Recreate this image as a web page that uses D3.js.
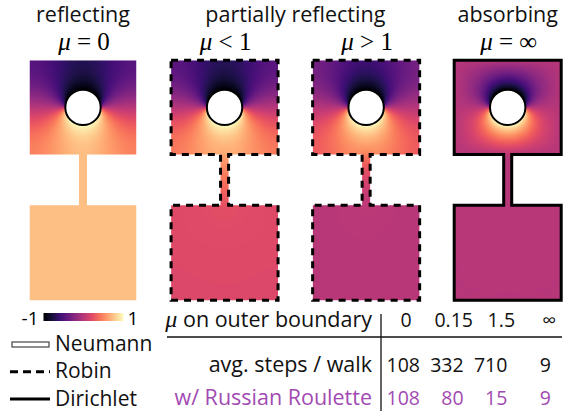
<!DOCTYPE html>
<html>
<head>
<meta charset="utf-8">
<script src="https://cdn.jsdelivr.net/npm/d3@7"></script>
<style>
  body { margin: 0; background: #fff; }
  svg { display: block; }
  .sans { font-family: "Open Sans", Lato, sans-serif; }
  .math { font-family: "Liberation Serif", "DejaVu Serif", serif; }
</style>
</head>
<body>
<svg id="chart" width="570" height="416"></svg>
<script>
// ---- data -------------------------------------------------------------
const panelKeys = ["reflecting", "robinLow", "robinHigh", "absorbing"];
const muValues = [0, 0.15, 1.5, Infinity];          // μ on the outer boundary
const muLabels = ["0", "0.15", "1.5", "∞"];
const panelSubtitles = [["μ", " = 0"], ["μ", " < 1"], ["μ", " > 1"], ["μ", " = ∞"]];
const boundaryKinds = ["neumann", "robin", "robin", "dirichlet"];
const groupTitles = ["reflecting", "partially reflecting", "absorbing"];
const groupPanels = [[0], [1, 2], [3]];
const avgSteps = [108, 332, 710, 9];
const avgStepsRR = [108, 80, 15, 9];
const legendLabels = ["Neumann", "Robin", "Dirichlet"];
const legendKinds = ["neumann", "robin", "dirichlet"];
const colorDomain = [-1, 1];

// ---- domain geometry (squares span [-0.5, 0.5], y pointing down) -----
const topSq = { x0: -0.5, x1: 0.5, y0: 0, y1: 0.88 };
const neck = { x0: -0.0375, x1: 0.0375, y0: 0.88, y1: 1.355 };
const botSq = { x0: -0.5, x1: 0.5, y0: 1.355, y1: 2.243 };
const hole = { cx: 0, cy: 0.44, r: 0.17 };
const domainWidth = topSq.x1 - topSq.x0;
// physical lengths: the whole domain is normalised to unit height
const physScale = 1 / (botSq.y1 - topSq.y0);

const color = d3.scaleSequential(d3.interpolateMagma).domain(colorDomain);

// boundary value on the inner circle: -1 on top, +1 at the bottom
function holeValue(x, y) {
  const dx = x - hole.cx, dy = y - hole.cy;
  const s = dy / Math.max(1e-9, Math.hypot(dx, dy));
  const k = 5;
  return Math.tanh(k * s) / Math.tanh(k);
}

function inRect(r, x, y) { return x >= r.x0 && x <= r.x1 && y >= r.y0 && y <= r.y1; }
function inDomain(x, y) { return inRect(topSq, x, y) || inRect(neck, x, y) || inRect(botSq, x, y); }
function inHole(x, y) { return Math.hypot(x - hole.cx, y - hole.cy) <= hole.r; }

// Laplace equation, Dirichlet on the circle, Robin (du/dn + μu = 0) outside.
// Finite volumes on a cell grid, solved with Jacobi-preconditioned CG.
function solve(mu, N) {
  const h = domainWidth / N;
  const hp = h * physScale;
  const nx = N, ny = Math.ceil(botSq.y1 / h);
  const state = new Int8Array(nx * ny);   // 0 outside, 1 unknown, 2 fixed
  const fixed = new Float64Array(nx * ny);
  for (let j = 0; j < ny; j++) for (let i = 0; i < nx; i++) {
    const x = topSq.x0 + (i + 0.5) * h, y = (j + 0.5) * h;
    const k = j * nx + i;
    if (!inDomain(x, y)) continue;
    if (inHole(x, y)) { state[k] = 2; fixed[k] = holeValue(x, y); }
    else state[k] = 1;
  }
  const c = mu === Infinity ? 2 : mu * hp / (1 + mu * hp / 2);
  const idx = new Int32Array(nx * ny).fill(-1);
  const cells = [];
  for (let k = 0; k < nx * ny; k++) if (state[k] === 1) { idx[k] = cells.length; cells.push(k); }
  const n = cells.length;
  const nb = new Int32Array(n * 4).fill(-1);
  const diag = new Float64Array(n), b = new Float64Array(n);
  const di = [1, -1, 0, 0], dj = [0, 0, 1, -1];
  cells.forEach((k, m) => {
    const i = k % nx, j = (k - i) / nx;
    for (let d = 0; d < 4; d++) {
      const ii = i + di[d], jj = j + dj[d];
      const kk = jj * nx + ii;
      const out = ii < 0 || ii >= nx || jj < 0 || jj >= ny || state[kk] === 0;
      if (out) { diag[m] += c; continue; }
      diag[m] += 1;
      if (state[kk] === 2) b[m] += fixed[kk];
      else nb[m * 4 + d] = idx[kk];
    }
  });
  const x = new Float64Array(n), r = Float64Array.from(b);
  const z = new Float64Array(n), p = new Float64Array(n), Ap = new Float64Array(n);
  for (let m = 0; m < n; m++) { z[m] = r[m] / diag[m]; p[m] = z[m]; }
  let rz = 0; for (let m = 0; m < n; m++) rz += r[m] * z[m];
  for (let it = 0; it < 4000; it++) {
    let pAp = 0;
    for (let m = 0; m < n; m++) {
      let v = diag[m] * p[m];
      for (let d = 0; d < 4; d++) { const q = nb[m * 4 + d]; if (q >= 0) v -= p[q]; }
      Ap[m] = v; pAp += p[m] * v;
    }
    const alpha = rz / pAp;
    let rr = 0;
    for (let m = 0; m < n; m++) { x[m] += alpha * p[m]; r[m] -= alpha * Ap[m]; rr += r[m] * r[m]; }
    if (rr < 1e-20) break;
    let rzNew = 0;
    for (let m = 0; m < n; m++) { z[m] = r[m] / diag[m]; rzNew += r[m] * z[m]; }
    const beta = rzNew / rz; rz = rzNew;
    for (let m = 0; m < n; m++) p[m] = z[m] + beta * p[m];
  }
  // full field, with values spread a few cells past the boundary for smooth edges
  const field = new Float64Array(nx * ny).fill(NaN);
  for (let k = 0; k < nx * ny; k++) {
    if (state[k] === 1) field[k] = x[idx[k]];
    else if (state[k] === 2) field[k] = fixed[k];
  }
  for (let pass = 0; pass < 4; pass++) {
    const next = Float64Array.from(field);
    for (let j = 0; j < ny; j++) for (let i = 0; i < nx; i++) {
      const k = j * nx + i;
      if (!isNaN(field[k])) continue;
      let s = 0, cnt = 0;
      for (let d = 0; d < 4; d++) {
        const ii = i + di[d], jj = j + dj[d];
        if (ii < 0 || ii >= nx || jj < 0 || jj >= ny) continue;
        const v = field[jj * nx + ii];
        if (!isNaN(v)) { s += v; cnt++; }
      }
      if (cnt) next[k] = s / cnt;
    }
    field.set(next);
  }
  return { nx, ny, h, field };
}

function fieldImage(sol) {
  const cv = document.createElement("canvas");
  cv.width = sol.nx; cv.height = sol.ny;
  const ctx = cv.getContext("2d");
  const img = ctx.createImageData(sol.nx, sol.ny);
  for (let k = 0; k < sol.nx * sol.ny; k++) {
    const v = sol.field[k];
    if (isNaN(v)) continue;
    const c = d3.rgb(color(Math.max(-1, Math.min(1, v))));
    img.data[4 * k] = c.r; img.data[4 * k + 1] = c.g; img.data[4 * k + 2] = c.b; img.data[4 * k + 3] = 255;
  }
  ctx.putImageData(img, 0, 0);
  return cv.toDataURL();
}

// ---- layout ---------------------------------------------------------
const svg = d3.select("#chart");
const panelPx = 107;
const textSize = 21.5;
const numSize = 19.5;
const panelX = d3.scalePoint().domain(panelKeys).range([83, 507.7]);
const yScale = d3.scaleLinear().domain([0, botSq.y1]).range([60.3, 60.3 + botSq.y1 * panelPx / domainWidth]);

const outline = [
  [topSq.x0, topSq.y0], [topSq.x1, topSq.y0], [topSq.x1, topSq.y1], [neck.x1, topSq.y1],
  [neck.x1, neck.y1], [botSq.x1, botSq.y0], [botSq.x1, botSq.y1], [botSq.x0, botSq.y1],
  [botSq.x0, botSq.y0], [neck.x0, neck.y1], [neck.x0, topSq.y1], [topSq.x0, topSq.y1]
];

const defs = svg.append("defs");
const N = 80;

panelKeys.forEach((key, pi) => {
  const cx = panelX(key);
  const xScale = d3.scaleLinear().domain([topSq.x0, topSq.x1]).range([cx - panelPx / 2, cx + panelPx / 2]);
  const line = d3.line().x(d => xScale(d[0])).y(d => yScale(d[1])).curve(d3.curveLinearClosed);
  defs.append("clipPath").attr("id", "clip-" + key).append("path").attr("d", line(outline));

  const sol = solve(muValues[pi], N);
  const g = svg.append("g").attr("class", "panel");
  g.append("image")
    .attr("href", fieldImage(sol))
    .attr("x", xScale(topSq.x0)).attr("y", yScale(0))
    .attr("width", xScale(topSq.x1) - xScale(topSq.x0))
    .attr("height", yScale(sol.ny * sol.h) - yScale(0))
    .attr("preserveAspectRatio", "none")
    .attr("clip-path", `url(#clip-${key})`);

  const kind = boundaryKinds[pi];
  if (kind !== "neumann") {
    g.append("path").attr("d", line(outline))
      .attr("fill", "none").attr("stroke", "#000").attr("stroke-width", 3)
      .attr("stroke-linejoin", "miter")
      .attr("stroke-dasharray", kind === "robin" ? "7,6" : null);
  }
  g.append("circle")
    .attr("cx", xScale(hole.cx)).attr("cy", yScale(hole.cy))
    .attr("r", xScale(hole.r) - xScale(0) - 0.5)
    .attr("fill", "#fff").attr("stroke", "#000").attr("stroke-width", 2);

  const sub = svg.append("text").attr("class", "math")
    .attr("x", cx + 1).attr("y", 50).attr("text-anchor", "middle").attr("font-size", 25);
  sub.append("tspan").attr("font-style", "italic").text(panelSubtitles[pi][0]);
  sub.append("tspan").text(panelSubtitles[pi][1]);
});

// group titles
groupTitles.forEach((t, gi) => {
  const xs = groupPanels[gi].map(p => panelX(panelKeys[p]));
  svg.append("text").attr("class", "sans")
    .attr("x", d3.mean(xs)).attr("y", 22).attr("text-anchor", "middle")
    .attr("font-size", textSize).attr("fill", "#111").text(t);
});

// ---- colour bar -----------------------------------------------------
const grad = defs.append("linearGradient").attr("id", "magma-bar");
d3.range(0, 1.0001, 0.1).forEach(t => {
  grad.append("stop").attr("offset", t).attr("stop-color", color(colorDomain[0] + t * (colorDomain[1] - colorDomain[0])));
});
const barX = d3.scaleLinear().domain(colorDomain).range([43.5, 123.5]);
svg.append("rect").attr("x", barX(-1)).attr("y", 313).attr("width", barX(1) - barX(-1)).attr("height", 8)
  .attr("fill", "url(#magma-bar)");
svg.append("text").attr("class", "sans").attr("x", barX(-1) - 5).attr("y", 325)
  .attr("text-anchor", "end").attr("font-size", 19).text(colorDomain[0]);
svg.append("text").attr("class", "sans").attr("x", barX(1) + 4).attr("y", 325)
  .attr("font-size", 19).text(colorDomain[1]);

// ---- legend ---------------------------------------------------------
const legendY = d3.scalePoint().domain(legendLabels).range([344.5, 399]);
legendLabels.forEach((lab, i) => {
  const y = legendY(lab);
  const kind = legendKinds[i];
  if (kind === "neumann") {
    svg.append("rect").attr("x", 12).attr("y", y - 2.5).attr("width", 37).attr("height", 5)
      .attr("fill", "#fff").attr("stroke", "#444").attr("stroke-width", 1.2);
  } else {
    svg.append("line").attr("x1", 10).attr("x2", 50).attr("y1", y).attr("y2", y)
      .attr("stroke", "#000").attr("stroke-width", 3)
      .attr("stroke-dasharray", kind === "robin" ? "8,5" : null);
  }
  svg.append("text").attr("class", "sans").attr("x", 55).attr("y", y + 6.5)
    .attr("font-size", 21).attr("fill", "#111").text(lab);
});

// ---- table ----------------------------------------------------------
const colCenter = d3.scalePoint().domain(muLabels).range([406, 549]);
const colRight = d3.scalePoint().domain(muLabels).range([420, 551]);
const rowY = { header: 327, steps: 372, rr: 405 };
const purple = "#a24ab2";

const head = svg.append("text").attr("class", "sans").attr("x", 372).attr("y", rowY.header)
  .attr("text-anchor", "end").attr("font-size", textSize).attr("fill", "#111");
head.append("tspan").attr("class", "math").attr("font-style", "italic").attr("font-size", 24).text("μ");
head.append("tspan").text(" on outer boundary");

muLabels.forEach(m => {
  svg.append("text").attr("class", "sans").attr("x", colCenter(m)).attr("y", rowY.header)
    .attr("text-anchor", "middle").attr("font-size", numSize).attr("fill", "#111").text(m);
});

svg.append("text").attr("class", "sans").attr("x", 372).attr("y", rowY.steps)
  .attr("text-anchor", "end").attr("font-size", textSize).attr("fill", "#111").text("avg. steps / walk");
svg.append("text").attr("class", "sans").attr("x", 372).attr("y", rowY.rr)
  .attr("text-anchor", "end").attr("font-size", textSize).attr("fill", purple).text("w/ Russian Roulette");

avgSteps.forEach((v, i) => {
  svg.append("text").attr("class", "sans").attr("x", colRight(muLabels[i])).attr("y", rowY.steps)
    .attr("text-anchor", "end").attr("font-size", numSize).attr("fill", "#111").text(v);
});
avgStepsRR.forEach((v, i) => {
  svg.append("text").attr("class", "sans").attr("x", colRight(muLabels[i])).attr("y", rowY.rr)
    .attr("text-anchor", "end").attr("font-size", numSize).attr("fill", purple).text(v);
});

svg.append("line").attr("x1", 381).attr("x2", 381).attr("y1", 314).attr("y2", 411)
  .attr("stroke", "#111").attr("stroke-width", 1.3);
svg.append("line").attr("x1", 167).attr("x2", 562).attr("y1", 337).attr("y2", 337)
  .attr("stroke", "#111").attr("stroke-width", 1.3);
</script>
</body>
</html>
